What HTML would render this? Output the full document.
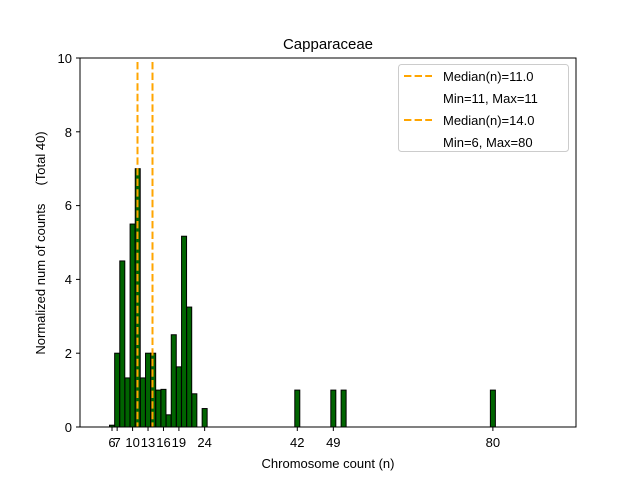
<!DOCTYPE html><html><head><style>body{margin:0;background:#fff}svg{display:block;font-family:"Liberation Sans","DejaVu Sans",sans-serif}</style></head><body>
<svg width="640" height="480" viewBox="0 0 640 480" xmlns="http://www.w3.org/2000/svg">
<rect width="640" height="480" fill="#fff"/>
<g fill="#006400" stroke="#000" stroke-width="1">
<rect x="109.5" y="425.2" width="5" height="1.8"/>
<rect x="114.65" y="353.2" width="5" height="73.8"/>
<rect x="119.79" y="260.95" width="5" height="166.05"/>
<rect x="124.94" y="377.92" width="5" height="49.08"/>
<rect x="130.09" y="224.05" width="5" height="202.95"/>
<rect x="135.24" y="168.7" width="5" height="258.3"/>
<rect x="140.38" y="377.92" width="5" height="49.08"/>
<rect x="145.53" y="353.2" width="5" height="73.8"/>
<rect x="150.68" y="353.2" width="5" height="73.8"/>
<rect x="155.82" y="390.1" width="5" height="36.9"/>
<rect x="160.97" y="389.36" width="5" height="37.64"/>
<rect x="166.12" y="414.82" width="5" height="12.18"/>
<rect x="171.26" y="334.75" width="5" height="92.25"/>
<rect x="176.41" y="366.85" width="5" height="60.15"/>
<rect x="181.56" y="236.23" width="5" height="190.77"/>
<rect x="186.71" y="307.07" width="5" height="119.93"/>
<rect x="191.85" y="393.79" width="5" height="33.21"/>
<rect x="202.15" y="408.55" width="5" height="18.45"/>
<rect x="294.79" y="390.1" width="5" height="36.9"/>
<rect x="330.82" y="390.1" width="5" height="36.9"/>
<rect x="341.12" y="390.1" width="5" height="36.9"/>
<rect x="490.38" y="390.1" width="5" height="36.9"/>
</g>
<line x1="137.5" y1="62" x2="137.5" y2="427" stroke="#FFA500" stroke-width="2" stroke-dasharray="7.4,3.2"/>
<line x1="152.5" y1="62" x2="152.5" y2="427" stroke="#FFA500" stroke-width="2" stroke-dasharray="7.4,3.2"/>
<rect x="80" y="58" width="496" height="369" fill="none" stroke="#000" stroke-width="1"/>
<g font-size="13" text-anchor="end" fill="#000">
<text x="72" y="432">0</text><text x="72" y="358">2</text><text x="72" y="284">4</text><text x="72" y="210">6</text><text x="72" y="137">8</text><text x="72" y="63">10</text>
</g>
<g stroke="#000"><line x1="76" y1="427" x2="80" y2="427"/><line x1="76" y1="353.2" x2="80" y2="353.2"/><line x1="76" y1="279.4" x2="80" y2="279.4"/><line x1="76" y1="205.6" x2="80" y2="205.6"/><line x1="76" y1="131.8" x2="80" y2="131.8"/><line x1="76" y1="58" x2="80" y2="58"/>
<line x1="112" y1="427" x2="112" y2="431"/><line x1="117.15" y1="427" x2="117.15" y2="431"/><line x1="132.59" y1="427" x2="132.59" y2="431"/><line x1="148.03" y1="427" x2="148.03" y2="431"/><line x1="163.47" y1="427" x2="163.47" y2="431"/><line x1="178.91" y1="427" x2="178.91" y2="431"/><line x1="204.65" y1="427" x2="204.65" y2="431"/><line x1="297.29" y1="427" x2="297.29" y2="431"/><line x1="333.32" y1="427" x2="333.32" y2="431"/><line x1="492.88" y1="427" x2="492.88" y2="431"/>
</g>
<g font-size="13" text-anchor="middle">
<text x="112" y="447">6</text><text x="117.15" y="447">7</text><text x="132.59" y="447">10</text><text x="148.03" y="447">13</text><text x="163.47" y="447">16</text><text x="178.91" y="447">19</text><text x="204.65" y="447">24</text><text x="297.29" y="447">42</text><text x="333.32" y="447">49</text><text x="492.88" y="447">80</text>
</g>
<text x="328" y="468" font-size="13" text-anchor="middle">Chromosome count (n)</text>
<text x="328" y="49" font-size="15" text-anchor="middle">Capparaceae</text>
<text transform="translate(45,243) rotate(-90)" font-size="13" text-anchor="middle">Normalized num of counts&#160;&#160;&#160;&#160;&#160;(Total 40)</text>
<rect x="398.5" y="64.5" width="170" height="87" rx="3" fill="#fff" stroke="#ccc"/>
<g stroke="#FFA500" stroke-width="2" stroke-dasharray="7.4,3.2"><line x1="404" y1="76" x2="432" y2="76"/><line x1="404" y1="120" x2="432" y2="120"/></g>
<g font-size="13"><text x="443" y="81">Median(n)=11.0</text><text x="443" y="103">Min=11, Max=11</text><text x="443" y="125">Median(n)=14.0</text><text x="443" y="147">Min=6, Max=80</text></g>
</svg></body></html>
